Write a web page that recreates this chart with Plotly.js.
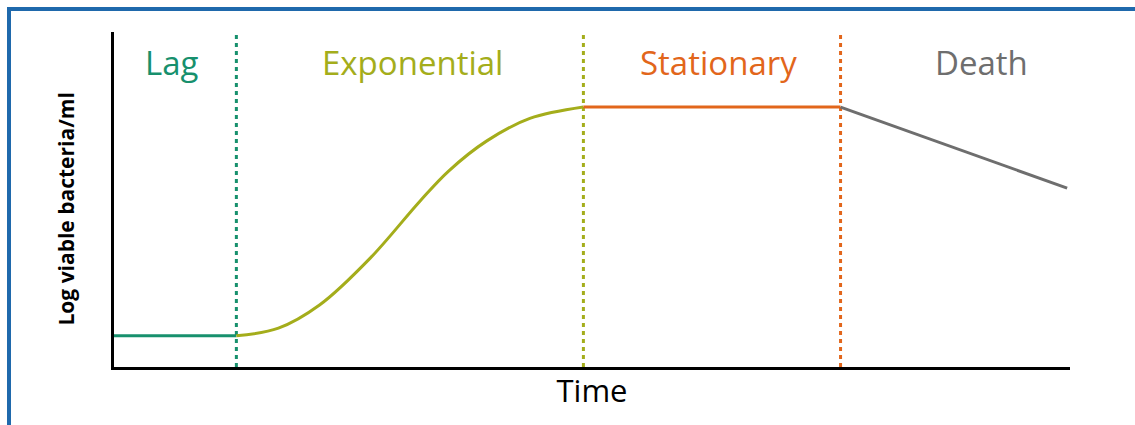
<!DOCTYPE html>
<html>
<head>
<meta charset="utf-8">
<script src="https://cdn.plot.ly/plotly-3.0.1.min.js"></script>
<style>
html,body{margin:0;padding:0;background:#fff;}
#wrap{position:relative;width:1135px;height:425px;overflow:hidden;}
#chart{position:absolute;left:0;top:0;width:1135px;height:425px;}
#frame{position:absolute;left:7px;top:7px;width:1140px;height:430px;border-top:4px solid #1f69ac;border-left:4px solid #1f69ac;pointer-events:none;}
</style>
</head>
<body>
<div id="wrap"><div id="chart"></div><div id="frame"></div></div>
<script>
// Phase names and colours
const phases = ["Lag", "Exponential", "Stationary", "Death"];
const phaseColors = ["#17906d", "#a4ad1b", "#e2661b", "#6e6e6e"];
// Phase boundaries (time units)
const boundaries = [1.28, 4.91, 7.60];
// Label positions (time units)
const labelX = [0.61, 3.12, 6.32, 9.07];
const labelY = 9.1;
const xTitle = "Time";
const yTitle = "Log viable bacteria/ml";

// Growth curve segments (log viable bacteria/ml)
const lagT = [0, 1.28];
const lagV = [0.93, 0.93];
const expT = [1.28, 1.72, 2.15, 2.68, 3.20, 3.50, 3.90, 4.35, 4.91];
const expV = [0.93, 1.16, 1.85, 3.25, 4.95, 5.85, 6.75, 7.42, 7.76];
const statT = [4.91, 7.60];
const statV = [7.76, 7.76];
const deathT = [7.60, 9.97];
const deathV = [7.76, 5.34];

const segs = [[lagT, lagV], [expT, expV], [statT, statV], [deathT, deathV]];
const traces = [];
boundaries.forEach((b, i) => {
  traces.push({x: [b, b], y: [0, 10], mode: 'lines', hoverinfo: 'skip',
    line: {color: phaseColors[i], width: 3, dash: '4px,4px'}});
});
segs.forEach((s, i) => {
  traces.push({x: s[0], y: s[1], mode: 'lines', name: phases[i],
    line: {color: phaseColors[i], width: 3, shape: i === 1 ? 'spline' : 'linear', smoothing: 1}});
});

const annotations = phases.map((p, i) => ({
  x: labelX[i], y: labelY, xref: 'x', yref: 'y', text: p, showarrow: false,
  font: {family: 'Open Sans', size: 33, color: phaseColors[i]}
}));
annotations.push({
  x: 0, y: 0.47, xref: 'paper', yref: 'paper', xanchor: 'right', yanchor: 'middle',
  xshift: -32, text: '<b>' + yTitle + '</b>', textangle: -90, showarrow: false,
  font: {family: 'Open Sans', size: 21, color: '#000'}
});

const layout = {
  width: 1135, height: 425,
  margin: {l: 114, r: 65, t: 32, b: 58},
  paper_bgcolor: '#fff', plot_bgcolor: '#fff',
  showlegend: false,
  xaxis: {range: [0, 10], showgrid: false, zeroline: false, showticklabels: false, ticks: '',
    showline: true, linecolor: '#000', linewidth: 3,
    title: {text: xTitle, font: {family: 'Open Sans', size: 31, color: '#000'}, standoff: 12}},
  yaxis: {range: [0, 10], showgrid: false, zeroline: false, showticklabels: false, ticks: '',
    showline: true, linecolor: '#000', linewidth: 3},
  annotations: annotations
};
Plotly.newPlot('chart', traces, layout, {displayModeBar: false, staticPlot: true});
</script>
</body>
</html>
